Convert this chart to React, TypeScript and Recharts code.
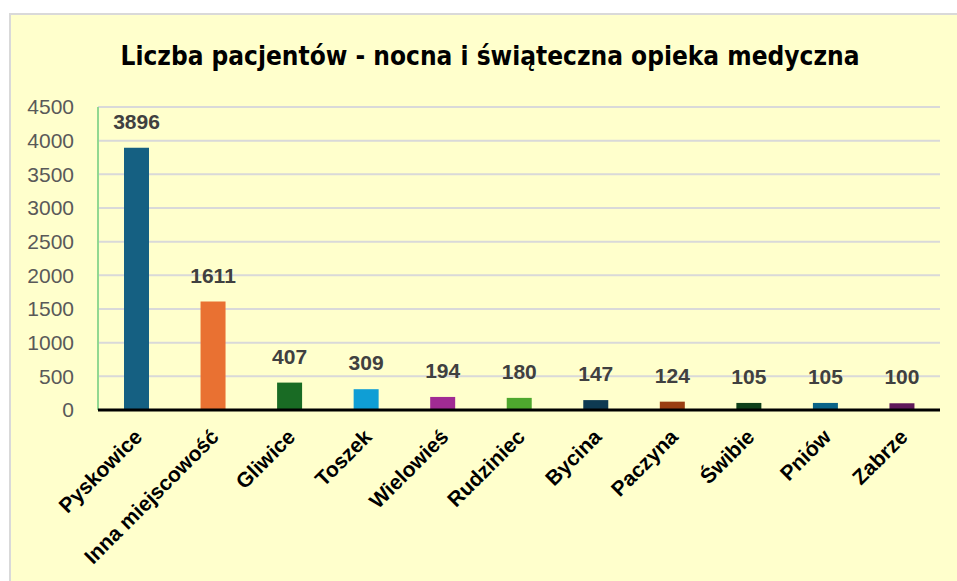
import React from 'react';
import { BarChart, Bar, XAxis, YAxis, CartesianGrid, Cell, LabelList } from 'recharts';

// Patients per town
const towns = [
  'Pyskowice',
  'Inna miejscowość',
  'Gliwice',
  'Toszek',
  'Wielowieś',
  'Rudziniec',
  'Bycina',
  'Paczyna',
  'Świbie',
  'Pniów',
  'Zabrze',
];
const patients = [3896, 1611, 407, 309, 194, 180, 147, 124, 105, 105, 100];
const barColors = [
  '#156082',
  '#E97132',
  '#196B24',
  '#0F9ED5',
  '#A02B93',
  '#4EA72E',
  '#0E3A52',
  '#9A3F12',
  '#0F401A',
  '#0B6488',
  '#5F195A',
];
const yTicks = [0, 500, 1000, 1500, 2000, 2500, 3000, 3500, 4000, 4500];

const data = towns.map((town, i) => ({ town, value: patients[i], color: barColors[i] }));

const XTick = (props: any) => {
  const { x, y, payload } = props;
  return (
    <text
      x={x + 2}
      y={y + 15}
      transform={`rotate(-45, ${x + 2}, ${y + 15})`}
      textAnchor="end"
      dy="0.35em"
      fill="#000"
      fontSize={21}
      fontWeight="bold"
      fontFamily="'Liberation Sans', Arial, sans-serif"
    >
      {payload.value}
    </text>
  );
};

const App: React.FC = () => {
  return (
    <div style={{ position: 'absolute', left: 0, top: 0, width: 957, height: 581, overflow: 'hidden', background: '#fff' }}>
      <div
        style={{
          position: 'absolute',
          left: 9,
          top: 13,
          width: 960,
          height: 580,
          border: '2px solid #D9D9D9',
          background: '#FFFFCC',
        }}
      />
      <div
        style={{
          position: 'absolute',
          left: 0,
          top: 41,
          width: 980,
          textAlign: 'center',
          fontFamily: "'Liberation Sans Narrow', 'DejaVu Sans Condensed', Arial, sans-serif",
          fontWeight: 'bold',
          fontSize: 26,
          color: '#000',
        }}
      >
        Liczba pacjentów - nocna i świąteczna opieka medyczna
      </div>
      <div style={{ position: 'absolute', left: 0, top: 0 }}>
        <BarChart
          width={957}
          height={581}
          data={data}
          margin={{ top: 107, right: 17, left: 38, bottom: 11 }}
        >
          <CartesianGrid vertical={false} stroke="#D9D9D9" strokeWidth={2} />
          <YAxis
            width={60}
            domain={[0, 4500]}
            ticks={yTicks}
            interval={0}
            axisLine={{ stroke: '#92D891', strokeWidth: 2 }}
            tickLine={false}
            tickSize={6}
            tickMargin={18}
            tick={{ fill: '#595959', fontSize: 21, fontFamily: "'Liberation Sans', Arial, sans-serif" }}
          />
          <XAxis
            dataKey="town"
            height={160}
            interval={0}
            axisLine={{ stroke: '#000', strokeWidth: 3 }}
            tickLine={false}
            tick={<XTick />}
          />
          <Bar dataKey="value" barSize={25} isAnimationActive={false}>
            {data.map((d) => (
              <Cell key={d.town} fill={d.color} />
            ))}
            <LabelList
              dataKey="value"
              position="top"
              offset={19}
              fill="#404040"
              fontSize={21}
              fontWeight="bold"
              fontFamily="'Liberation Sans', Arial, sans-serif"
            />
          </Bar>
        </BarChart>
      </div>
    </div>
  );
};

export default App;
